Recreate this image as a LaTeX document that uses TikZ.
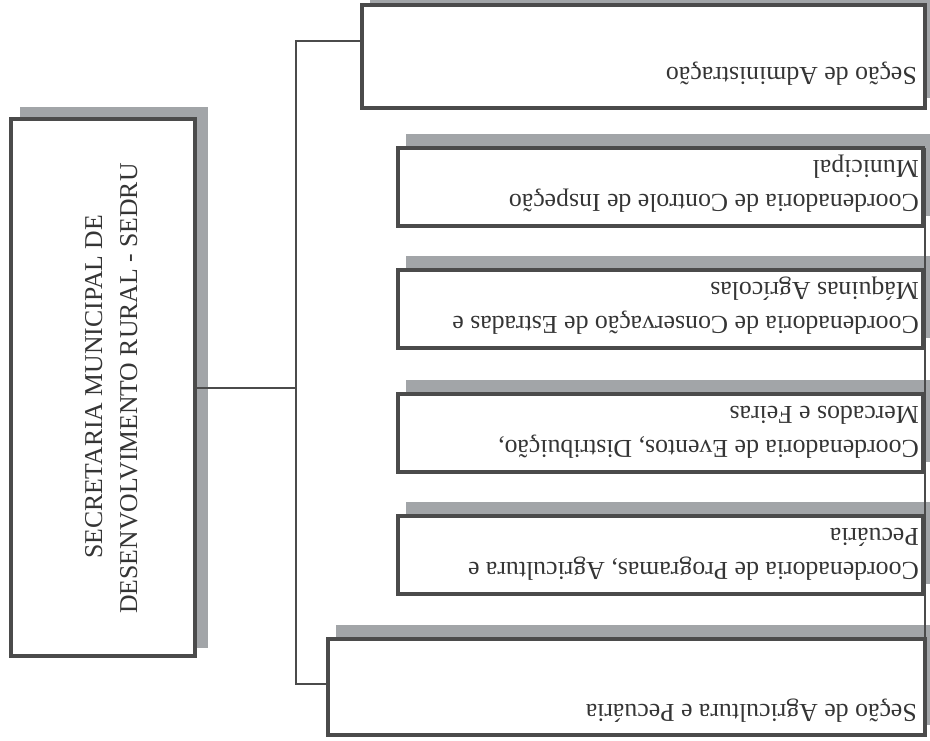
\documentclass[tikz,border=0pt]{standalone}
\usepackage{fontspec}
\setmainfont{Liberation Serif}
\definecolor{bordc}{HTML}{4B4B4B}
\definecolor{shadc}{HTML}{A2A5A8}
\definecolor{txtc}{HTML}{353535}
\begin{document}
\begin{tikzpicture}[x=1pt,y=-1pt,
  box/.style={draw=bordc, line width=4pt, fill=white, inner sep=0pt, outer sep=0pt},
  shad/.style={fill=shadc},
  conn/.style={draw=bordc, line width=2.6pt},
  rtext/.style={rotate=180, anchor=base west, inner sep=0pt, text=txtc, font=\fontsize{25.8}{30}\selectfont},
  ltext/.style={rotate=90, anchor=base, inner sep=0pt, text=txtc, font=\fontsize{25.7}{30}\selectfont},
]
\useasboundingbox (0,0) rectangle (930,740);

% boxes (geometry only)
\path
  node[box, minimum width=184pt, minimum height=537pt] (L)  at (103,387.5) {}
  node[box, minimum width=563pt, minimum height=103pt] (b1) at (643.5,56.5) {}
  node[box, minimum width=525pt, minimum height=78pt]  (b2) at (660.5,187) {}
  node[box, minimum width=525pt, minimum height=78pt]  (b3) at (660.5,309) {}
  node[box, minimum width=525pt, minimum height=78pt]  (b4) at (660.5,433) {}
  node[box, minimum width=525pt, minimum height=78pt]  (b5) at (660.5,555) {}
  node[box, minimum width=597pt, minimum height=96pt]  (b6) at (626.5,687) {};

% shadows
\fill[shad] ([shift={(9pt,8pt)}]L.south west) rectangle ([shift={(13pt,12pt)}]L.north east);
\foreach \b in {b1,b2,b3,b4,b5,b6}{
  \fill[shad] ([shift={(8pt,10pt)}]\b.south west) rectangle ([shift={(12pt,14pt)}]\b.north east);
}

% connectors
\coordinate (bt) at (296,41);
\coordinate (bm) at (296,388);
\coordinate (bb) at (296,684);
\coordinate (rx) at (925,0);
\draw[conn] (bt -| b1.west) -- (bt) -- (bb) -- (bb -| b6.west);
\draw[conn] (L.east |- bm) -- (bm);
\draw[conn] (b2.north -| rx) -- (b6.north -| rx);

% boxes on top
\foreach \b in {L,b1,b2,b3,b4,b5,b6}{
  \draw[draw=bordc, line width=4pt, fill=white] (\b.south west) rectangle (\b.north east);
}

% texts
\node[ltext] (tl1) at (102,387) {SECRETARIA MUNICIPAL DE};
\node[ltext] (tl2) at (137,388.5) {DESENVOLVIMENTO RURAL - SEDRU};

\node[rtext] (t1) at (917,67) {Seção de Administração};
\node[rtext] (t2a) at (919,194.5) {Coordenadoria de Controle de Inspeção};
\node[rtext] (t2b) at (919,160.5) {Municipal};
\node[rtext] (t3a) at (919,316.5) {Coordenadoria de Conservação de Estradas e};
\node[rtext] (t3b) at (919,282.5) {Máquinas Agrícolas};
\node[rtext] (t4a) at (919,440.5) {Coordenadoria de Eventos, Distribuição,};
\node[rtext] (t4b) at (919,406.5) {Mercados e Feiras};
\node[rtext] (t5a) at (919,562.5) {Coordenadoria de Programas, Agricultura e};
\node[rtext] (t5b) at (919,528.5) {Pecuária};
\node[rtext] (t6) at (917,704) {Seção de Agricultura e Pecuária};
\end{tikzpicture}
\end{document}
